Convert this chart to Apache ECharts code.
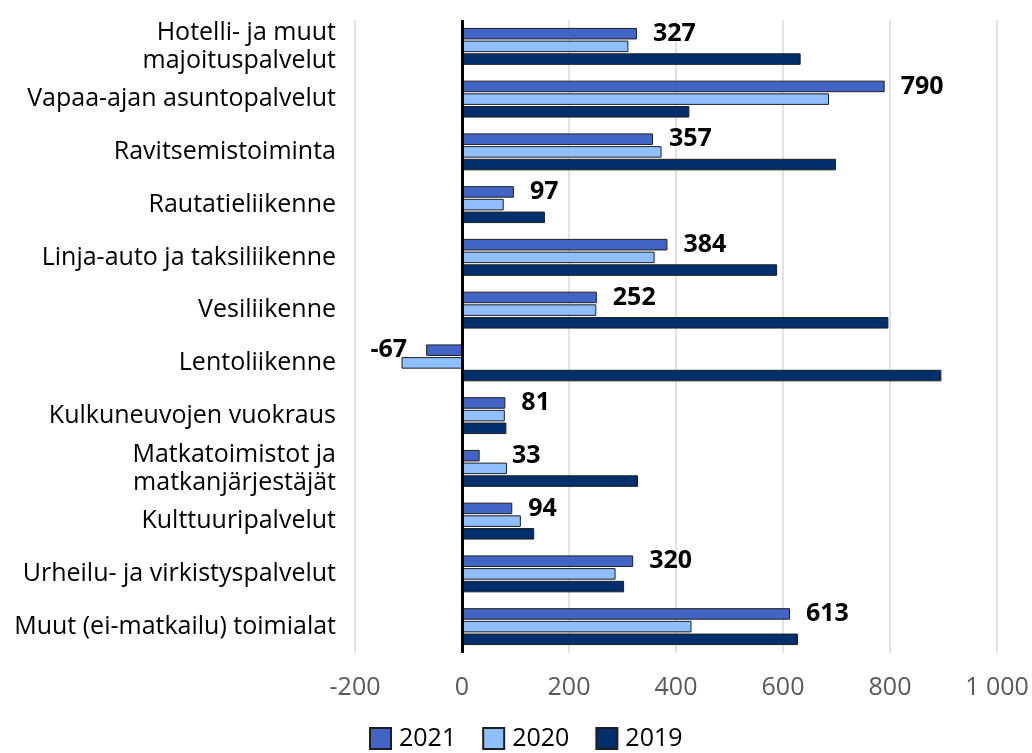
<!DOCTYPE html>
<html>
<head>
<meta charset="utf-8">
<script src="https://cdn.jsdelivr.net/npm/echarts@6/dist/echarts.min.js"></script>
<style>
html,body{margin:0;padding:0;background:#fff;}
#c{width:1032px;height:753px;}
</style>
</head>
<body>
<div id="c"></div>
<script>
const categories = [
  "Hotelli- ja muut\nmajoituspalvelut",
  "Vapaa-ajan asuntopalvelut",
  "Ravitsemistoiminta",
  "Rautatieliikenne",
  "Linja-auto ja taksiliikenne",
  "Vesiliikenne",
  "Lentoliikenne",
  "Kulkuneuvojen vuokraus",
  "Matkatoimistot ja\nmatkanjärjestäjät",
  "Kulttuuripalvelut",
  "Urheilu- ja virkistyspalvelut",
  "Muut (ei-matkailu) toimialat"
];
const seriesNames = ["2021", "2020", "2019"];
const values2021 = [327, 790, 357, 97, 384, 252, -67, 81, 33, 94, 320, 613];
const values2020 = [311, 686, 373, 78, 360, 251, -113, 80, 84, 110, 287, 429];
const values2019 = [633, 425, 699, 155, 589, 797, 896, 83, 329, 135, 303, 628];
const xTicks = [-200, 0, 200, 400, 600, 800, 1000];

const colors = ["#4264C4", "#8FBFFF", "#002F6C"];
const FONT = "Open Sans";

function fmt(v){
  const s = String(Math.abs(v)).replace(/\B(?=(\d{3})+(?!\d))/g, " ");
  return (v < 0 ? "-" : "") + s;
}

function buildLabelData(shifts){
  return values2021.map((v, i) => ({
    value: v,
    label: {
      position: v < 0 ? "left" : "right",
      distance: v < 0 ? 19 : 16,
      offset: [shifts ? shifts[i] : 0, 0]
    }
  }));
}

const barCommon = {
  type: "bar",
  barCategoryGap: "30%",
  barGap: "10%"
};

const option = {
  animation: false,
  textStyle: { fontFamily: FONT },
  grid: { left: 355, right: 35, top: 20, bottom: 100 },
  legend: {
    data: seriesNames,
    bottom: -3,
    left: 364,
    itemWidth: 21,
    itemHeight: 21,
    itemGap: 26,
    icon: "rect",
    textStyle: { fontSize: 25, color: "#000", fontFamily: FONT, padding: [0,0,0,3] }
  },
  xAxis: {
    type: "value",
    min: xTicks[0],
    max: xTicks[xTicks.length - 1],
    interval: 200,
    axisLine: { show: false },
    axisTick: { show: false },
    splitLine: { show: true, lineStyle: { color: "#d9d9d9", width: 1.5 } },
    axisLabel: {
      fontSize: 25, color: "#595959", margin: 22, fontFamily: FONT,
      formatter: v => fmt(v)
    }
  },
  yAxis: {
    type: "category",
    data: categories,
    inverse: true,
    axisLine: { show: false },
    axisTick: { show: false },
    axisLabel: {
      fontSize: 25, color: "#000", margin: 19, lineHeight: 28, fontFamily: FONT, align: "right"
    }
  },
  series: [
    Object.assign({}, barCommon, {
      name: seriesNames[0],
      data: buildLabelData(null),
      itemStyle: { color: colors[0], borderColor: "#1f1f1f", borderWidth: 1 },
      label: {
        show: true, fontSize: 25, fontWeight: "bold", color: "#000", fontFamily: FONT,
        formatter: p => fmt(p.value)
      },
      markLine: {
        silent: true, symbol: "none", label: { show: false },
        lineStyle: { color: "#000", width: 3, type: "solid" },
        data: [{ xAxis: 0 }]
      }
    }),
    Object.assign({}, barCommon, {
      name: seriesNames[1],
      data: values2020,
      itemStyle: { color: colors[1], borderColor: "#1f1f1f", borderWidth: 1 }
    }),
    Object.assign({}, barCommon, {
      name: seriesNames[2],
      data: values2019,
      itemStyle: { color: colors[2], borderColor: "#1f1f1f", borderWidth: 1 }
    })
  ]
};

const chart = echarts.init(document.getElementById("c"), null, { renderer: "canvas" });
chart.setOption(option);

// shift a label right when the 2020 bar below would collide with it
const px = v => chart.convertToPixel({ xAxisIndex: 0 }, v);
const shifts = values2021.map((v, i) => {
  if (v < 0) return 0;
  const end21 = px(v), end20 = px(values2020[i]);
  const need = end20 + 5 - (end21 + 16);
  return need > 0 ? need : 0;
});
chart.setOption({ series: [{ data: buildLabelData(shifts) }] });
</script>
</body>
</html>
